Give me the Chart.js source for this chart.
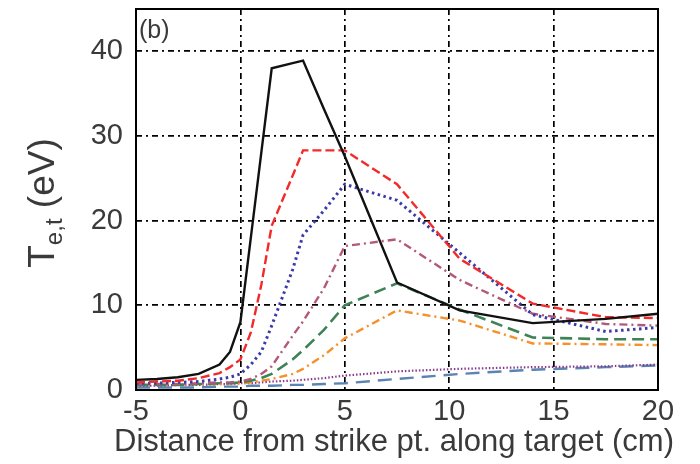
<!DOCTYPE html>
<html>
<head>
<meta charset="utf-8">
<script src="https://cdn.jsdelivr.net/npm/chart.js@4/dist/chart.umd.min.js"></script>
<style>
  body { margin: 0; background: #fff; }
</style>
</head>
<body>
<canvas id="chart" width="700" height="464"></canvas>
<script>
// positions along the target (cm)
const xPos = [-5, -4, -3, -2, -1, -0.5, 0, 0.5, 1, 1.5, 2.5, 3, 4, 5, 7.5, 10.5, 14, 17.5, 20];

// Te,t (eV) for each case
const teBlack  = [1.2, 1.3, 1.5, 1.9, 3.0, 4.5, 8.0, 18.0, 28.0, 38.0, 38.6, 38.9, 33.2, 27.6, 12.7, 9.4, 7.9, 8.4, 9.0];
const teRed    = [0.9, 1.0, 1.1, 1.4, 2.0, 2.7, 3.6, 6.8, 12.4, 19.4, 25.3, 28.3, 28.3, 28.3, 24.3, 15.5, 10.2, 8.6, 8.5];
const teBlue   = [0.8, 0.8, 0.9, 1.0, 1.3, 1.5, 1.9, 3.0, 4.5, 7.6, 14.2, 18.3, 21.2, 24.3, 22.4, 16.2, 8.9, 6.9, 7.4];
const teMauve  = [0.7, 0.7, 0.7, 0.8, 0.9, 0.9, 1.0, 1.3, 1.9, 2.8, 6.4, 8.1, 12.0, 17.0, 17.8, 13.0, 9.0, 7.8, 7.6];
const teGreen  = [0.6, 0.6, 0.6, 0.7, 0.8, 0.8, 0.9, 1.1, 1.4, 1.9, 3.6, 4.7, 7.1, 10.0, 12.6, 9.5, 6.2, 6.0, 6.0];
const teOrange = [0.6, 0.6, 0.6, 0.7, 0.7, 0.8, 0.8, 0.9, 1.1, 1.3, 1.9, 2.5, 4.1, 6.1, 9.4, 8.2, 5.5, 5.4, 5.3];
const tePurple = [0.5, 0.5, 0.6, 0.6, 0.7, 0.7, 0.8, 0.8, 0.9, 1.0, 1.1, 1.2, 1.4, 1.7, 2.2, 2.5, 2.7, 2.8, 3.0];
const teSteel  = [0.3, 0.3, 0.3, 0.3, 0.4, 0.4, 0.4, 0.5, 0.5, 0.5, 0.6, 0.6, 0.7, 0.8, 1.3, 1.9, 2.4, 2.7, 2.9];

const xTicks = [-5, 0, 5, 10, 15, 20];
const yTicks = [0, 10, 20, 30, 40];

const toPoints = (ys) => ys.map((y, i) => ({ x: xPos[i], y }));

const line = (data, color, dash, width) => ({
  data: toPoints(data),
  borderColor: color,
  borderDash: dash,
  borderWidth: width,
  pointRadius: 0,
  fill: false,
  tension: 0,
});

const textColor = '#3a3a3a';
const fontFamily = '"Liberation Sans", Arial, sans-serif';

// frame, panel tag and both axis titles (the y one has a subscript)
const decorations = {
  id: 'decorations',
  afterDraw(chart) {
    const { ctx, chartArea: a } = chart;
    ctx.save();
    ctx.strokeStyle = '#000';
    ctx.lineWidth = 2;
    ctx.strokeRect(a.left, a.top, a.right - a.left, a.bottom - a.top);

    ctx.fillStyle = textColor;
    ctx.font = '25px ' + fontFamily;
    ctx.textBaseline = 'middle';
    ctx.fillText('(b)', a.left + 3, 31);

    // x title, wider than the plot so drawn here
    ctx.font = '31px ' + fontFamily;
    ctx.textAlign = 'center';
    ctx.fillText('Distance from strike pt. along target (cm)', 394, 442);
    ctx.textAlign = 'left';

    // y title: T_e,t (eV)
    ctx.translate(44, 203);
    ctx.rotate(-Math.PI / 2);
    const big = '37px ' + fontFamily;
    const small = '24px ' + fontFamily;
    ctx.font = big;
    const wT = ctx.measureText('T').width;
    const wRest = ctx.measureText(' (eV)').width;
    ctx.font = small;
    const wSub = ctx.measureText('e,t').width;
    let x = -(wT + wSub + wRest) / 2;
    ctx.font = big;
    ctx.fillText('T', x, 0);
    x += wT;
    ctx.font = small;
    ctx.fillText('e,t', x, 11);
    x += wSub;
    ctx.font = big;
    ctx.fillText(' (eV)', x, 0);
    ctx.restore();
  },
};

new Chart(document.getElementById('chart'), {
  type: 'line',
  data: {
    datasets: [
      line(teBlack, '#111111', [], 2.4),
      line(teRed, '#f22a2a', [9, 4], 2.4),
      line(teBlue, '#3a3aa8', [2.5, 3.5], 3),
      line(teMauve, '#b4587a', [8, 4, 2, 4], 2.4),
      line(teGreen, '#3e8256', [12, 6], 2.6),
      line(teOrange, '#f5902a', [8, 4, 2, 4], 2.4),
      line(tePurple, '#8a3a8a', [1.5, 2], 2.2),
      line(teSteel, '#5a84b4', [14, 8], 2.4),
    ],
  },
  options: {
    responsive: false,
    animation: false,
    layout: { padding: { top: 9, right: 42, left: 0, bottom: 0 } },
    plugins: {
      legend: { display: false },
      tooltip: { enabled: false },
    },
    scales: {
      x: {
        type: 'linear',
        min: -5,
        max: 20,
        afterFit: (axis) => { axis.height = 74; },
        afterBuildTicks: (axis) => { axis.ticks = xTicks.map(v => ({ value: v })); },
        grid: { color: '#000', lineWidth: 1.7, drawTicks: false },
        border: { display: false, dash: [6, 4, 2, 4] },
        ticks: {
          color: textColor,
          padding: 5,
          maxRotation: 0,
          font: { family: fontFamily, size: 29 },
        },
      },
      y: {
        min: 0,
        max: 45,
        afterFit: (axis) => {
          axis.width = 136;
          axis.paddingTop = 0;
          axis.paddingBottom = 0;
        },
        afterBuildTicks: (axis) => { axis.ticks = yTicks.map(v => ({ value: v })); },
        grid: { color: '#000', lineWidth: 1.7, drawTicks: false },
        border: { display: false, dash: [6, 4, 2, 4] },
        ticks: {
          color: textColor,
          padding: 13,
          font: { family: fontFamily, size: 29 },
        },
      },
    },
  },
  plugins: [decorations],
});
</script>
</body>
</html>
